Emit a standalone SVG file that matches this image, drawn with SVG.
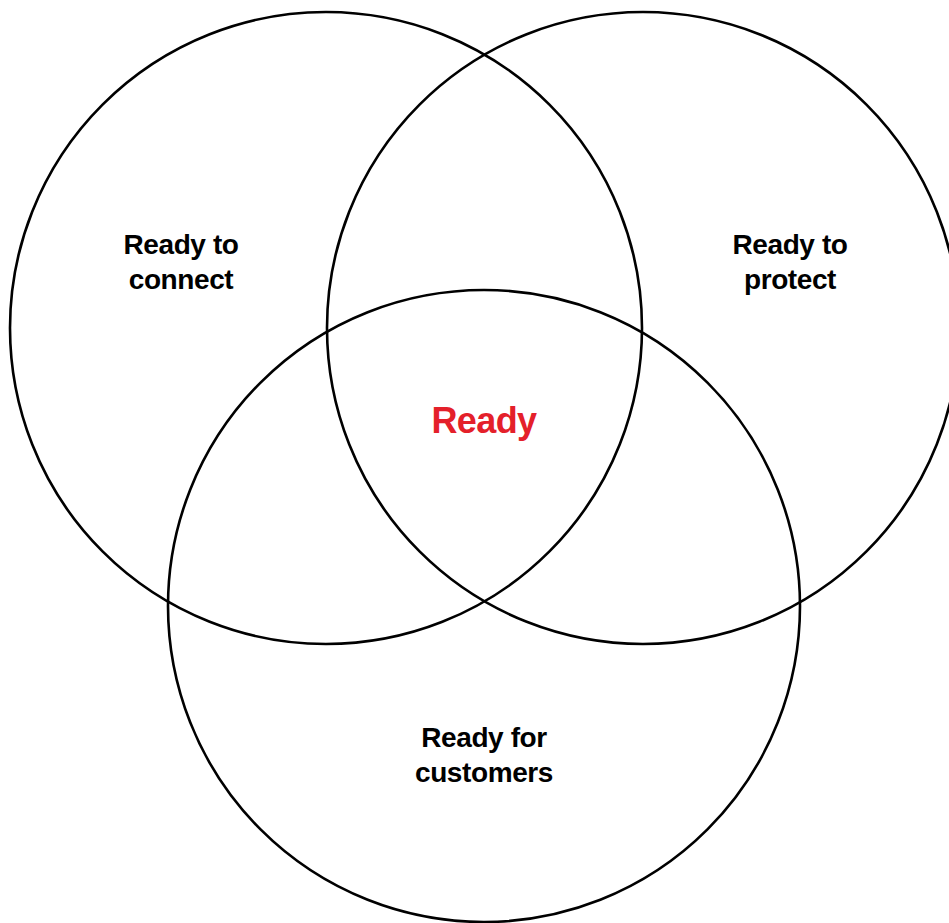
<svg xmlns="http://www.w3.org/2000/svg" width="949" height="923" viewBox="0 0 949 923">
<style>
.c{fill:none;stroke:#000;stroke-width:2.6}
.t{font-family:"Liberation Sans",Arial,sans-serif;font-weight:bold;font-size:28px;fill:#000;text-anchor:middle;letter-spacing:-0.4px}
.r{font-family:"Liberation Sans",Arial,sans-serif;font-weight:bold;font-size:36px;fill:#e4202a;text-anchor:middle;letter-spacing:-0.6px}
</style>
<rect width="949" height="923" fill="#fff"/>
<g id="connect">
<circle class="c" cx="326" cy="328" r="316"/>
<text class="t" x="181" y="254">Ready to</text>
<text class="t" x="181" y="289">connect</text>
</g>
<g id="protect">
<circle class="c" cx="643" cy="328" r="316"/>
<text class="t" x="790" y="254">Ready to</text>
<text class="t" x="790" y="289">protect</text>
</g>
<g id="customers">
<circle class="c" cx="484" cy="606" r="316"/>
<text class="t" x="484" y="747">Ready for</text>
<text class="t" x="484" y="782">customers</text>
</g>
<g id="ready">
<text class="r" x="484" y="433">Ready</text>
</g>
<g id="connectors"></g>
</svg>
